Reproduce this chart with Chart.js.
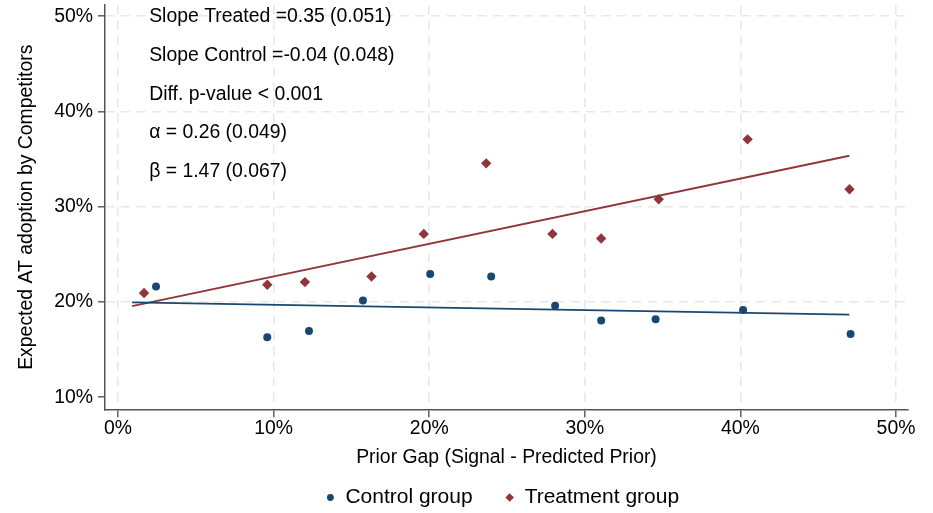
<!DOCTYPE html>
<html>
<head>
<meta charset="utf-8">
<title>Prior gap and expected AT adoption</title>
<script src="https://cdn.jsdelivr.net/npm/chart.js@4.4.1/dist/chart.umd.min.js"></script>
<style>
  html, body { margin: 0; padding: 0; background: #fff; }
  #wrap { width: 933px; height: 513px; }
</style>
</head>
<body>
<div id="wrap"><canvas id="gapChart" width="933" height="513"></canvas></div>
<script>
// binned means, in percent
const controlX = [2.44, 9.59, 12.27, 15.74, 20.06, 23.98, 28.09, 31.05, 34.55, 40.17, 47.08];
const controlY = [21.63, 16.29, 16.96, 20.17, 22.93, 22.68, 19.61, 18.07, 18.18, 19.16, 16.65];
const treatedX = [1.67, 9.59, 12.01, 16.29, 19.65, 23.66, 27.92, 31.05, 34.75, 40.46, 47.01];
const treatedY = [20.94, 21.81, 22.09, 22.68, 27.15, 34.55, 27.15, 26.66, 30.78, 37.07, 31.83];

// linear fits, evaluated at both ends of the gap range
const fitX = [0.9, 47.0];
const controlFit = [19.96, 18.67];
const treatedFit = [19.57, 35.35];

const xTicks = [0, 10, 20, 30, 40, 50];
const yTicks = [10, 20, 30, 40, 50];

const statLines = [
    'Slope Treated =0.35 (0.051)',
    'Slope Control =-0.04 (0.048)',
    'Diff. p-value < 0.001',
    'α = 0.26 (0.049)',
    'β = 1.47 (0.067)'
];
const statX = 2;
const statY = [49.9, 45.9, 41.8, 37.8, 33.7];

const legendLabels = ['Control group', 'Treatment group'];

const NAVY = '#1a476f';
const MAROON = '#90353b';
const AXIS = '#555555';
const GRID = '#e8e8e8';
const FONT = '"Liberation Sans", Arial, Helvetica, sans-serif';
const TEXT_SIZE = 19.4;

Chart.defaults.font.family = FONT;
Chart.defaults.color = '#000';

const toPoints = (xs, ys) => xs.map((x, i) => ({ x: x, y: ys[i] }));

// text block with the regression results, anchored in data units
const statsText = {
    id: 'statsText',
    afterDatasetsDraw(chart) {
        const { ctx, scales: { x, y } } = chart;
        ctx.save();
        ctx.font = TEXT_SIZE + 'px ' + FONT;
        ctx.fillStyle = '#000';
        ctx.textAlign = 'left';
        ctx.textBaseline = 'middle';
        statLines.forEach((line, i) => {
            ctx.fillText(line, x.getPixelForValue(statX), y.getPixelForValue(statY[i]));
        });
        ctx.restore();
    }
};

// legend below the axis title: dot for control, diamond for treatment
const groupLegend = {
    id: 'groupLegend',
    afterDraw(chart) {
        const { ctx, chartArea } = chart;
        const markerGap = 15;
        const itemGap = 37;
        const y = 497.5;
        ctx.save();
        ctx.font = '21px ' + FONT;
        ctx.textBaseline = 'middle';
        ctx.textAlign = 'left';
        const widths = legendLabels.map(l => ctx.measureText(l).width);
        const total = 3.5 + markerGap + widths[0] + itemGap + markerGap + widths[1];
        let x = (chartArea.left + chartArea.right) / 2 - 3.5 - total / 2 + 3.5;

        ctx.fillStyle = NAVY;
        ctx.beginPath();
        ctx.arc(x, y, 3.4, 0, Math.PI * 2);
        ctx.fill();
        ctx.fillStyle = '#000';
        ctx.fillText(legendLabels[0], x + markerGap, y);

        x += markerGap + widths[0] + itemGap;
        const r = 4.3;
        ctx.fillStyle = MAROON;
        ctx.beginPath();
        ctx.moveTo(x - r, y);
        ctx.lineTo(x, y - r);
        ctx.lineTo(x + r, y);
        ctx.lineTo(x, y + r);
        ctx.closePath();
        ctx.fill();
        ctx.fillStyle = '#000';
        ctx.fillText(legendLabels[1], x + markerGap, y);
        ctx.restore();
    }
};

const pct = v => v + '%';

new Chart(document.getElementById('gapChart'), {
    type: 'scatter',
    data: {
        datasets: [
            {
                label: 'Control fit',
                data: toPoints(fitX, controlFit),
                showLine: true,
                borderColor: NAVY,
                borderWidth: 1.8,
                pointRadius: 0
            },
            {
                label: 'Treatment fit',
                data: toPoints(fitX, treatedFit),
                showLine: true,
                borderColor: MAROON,
                borderWidth: 1.8,
                pointRadius: 0
            },
            {
                label: legendLabels[0],
                data: toPoints(controlX, controlY),
                pointStyle: 'circle',
                pointRadius: 4,
                pointBorderWidth: 0,
                backgroundColor: NAVY
            },
            {
                label: legendLabels[1],
                data: toPoints(treatedX, treatedY),
                pointStyle: 'rectRot',
                pointRadius: 5.2,
                pointBorderWidth: 0,
                backgroundColor: MAROON
            }
        ]
    },
    options: {
        responsive: false,
        animation: false,
        events: [],
        layout: { padding: { top: 4, right: 25, bottom: 38, left: 0 } },
        plugins: {
            legend: { display: false },
            tooltip: { enabled: false }
        },
        scales: {
            x: {
                type: 'linear',
                min: -0.84,
                max: 50.77,
                afterBuildTicks: scale => { scale.ticks = xTicks.map(v => ({ value: v })); },
                afterFit: scale => {
                    scale.height = 65.7;
                    scale.paddingLeft = 0;
                    scale.paddingRight = 0;
                },
                ticks: {
                    callback: pct,
                    font: { size: TEXT_SIZE },
                    color: '#000',
                    padding: 0,
                    maxRotation: 0,
                    autoSkip: false
                },
                grid: {
                    color: GRID,
                    lineWidth: 1.6,
                    tickLength: 8,
                    tickColor: AXIS,
                    tickWidth: 1.4,
                    tickBorderDash: []
                },
                border: { color: AXIS, width: 1.5, dash: [9, 6.5] },
                title: {
                    display: true,
                    text: 'Prior Gap (Signal - Predicted Prior)',
                    font: { size: TEXT_SIZE },
                    color: '#000',
                    padding: { top: 0, bottom: 5.5 }
                }
            },
            y: {
                type: 'linear',
                min: 8.74,
                max: 51.15,
                afterBuildTicks: scale => { scale.ticks = yTicks.map(v => ({ value: v })); },
                afterFit: scale => {
                    scale.width = 105;
                    scale.paddingTop = 0;
                    scale.paddingBottom = 0;
                },
                ticks: {
                    callback: pct,
                    font: { size: TEXT_SIZE },
                    color: '#000',
                    padding: 5
                },
                grid: {
                    color: ctx => (ctx.tick && ctx.tick.value === 10 ? 'rgba(0,0,0,0)' : GRID),
                    lineWidth: 1.6,
                    tickLength: 7,
                    tickColor: AXIS,
                    tickWidth: 1.4,
                    tickBorderDash: []
                },
                border: { color: AXIS, width: 1.5, dash: [9, 6.5] },
                title: {
                    display: true,
                    text: 'Expected AT adoption by Competitors',
                    font: { size: TEXT_SIZE },
                    color: '#000',
                    padding: { top: 15.3, bottom: 0 }
                }
            }
        }
    },
    plugins: [statsText, groupLegend]
});
</script>
</body>
</html>
